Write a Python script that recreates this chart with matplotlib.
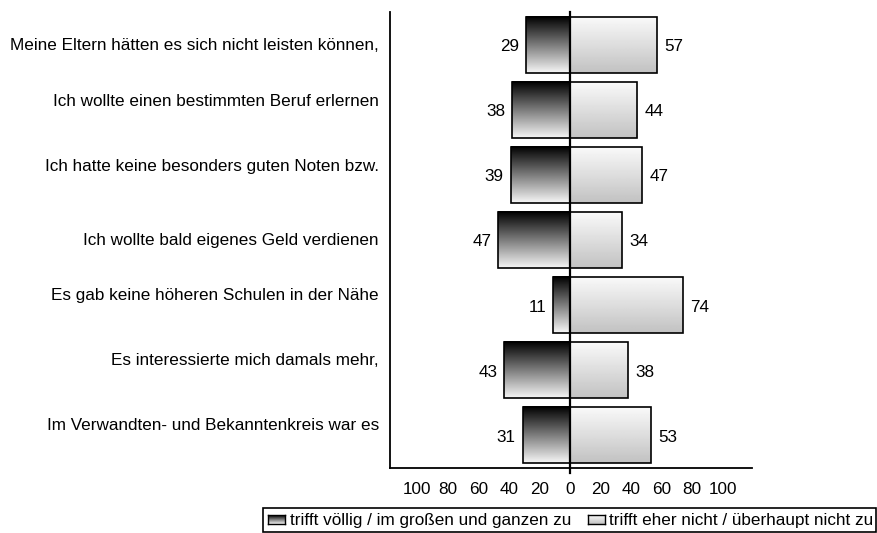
import numpy as np
import matplotlib.pyplot as plt
from matplotlib.patches import Rectangle

plt.rcParams['font.family'] = ['Liberation Sans', 'DejaVu Sans']

categories = [
    'Meine Eltern hätten es sich nicht leisten können,',
    'Ich wollte einen bestimmten Beruf erlernen',
    'Ich hatte keine besonders guten Noten bzw.',
    'Ich wollte bald eigenes Geld verdienen',
    'Es gab keine höheren Schulen in der Nähe',
    'Es interessierte mich damals mehr,',
    'Im Verwandten- und Bekanntenkreis war es',
]
agree = [29, 38, 39, 47, 11, 43, 31]
disagree = [57, 44, 47, 34, 74, 38, 53]
xticks = [-100, -80, -60, -40, -20, 0, 20, 40, 60, 80, 100]
legend_labels = ['trifft völlig / im großen und ganzen zu',
                 'trifft eher nicht / überhaupt nicht zu']

# small vertical shift of the category labels (points, up is positive)
label_shift = [-1, 6, 6, 0, 7, 7, 7]

fs = 12.3
W, H = 877, 533
fig = plt.figure(figsize=(8.77, 5.33), dpi=100)
ax = fig.add_axes([390 / W, 1 - 468 / H, 362 / W, 456 / H])

dark = np.linspace(0.0, 0.96, 64).reshape(-1, 1)   # top black -> bottom light
light = np.linspace(0.98, 0.76, 64).reshape(-1, 1)  # top white -> bottom gray
h = 0.86

for i, (a, d) in enumerate(zip(agree, disagree)):
    top, bot = i - h / 2, i + h / 2
    ax.imshow(dark, cmap='gray', vmin=0, vmax=1, aspect='auto',
              extent=(-a, 0, bot, top), zorder=2)
    ax.add_patch(Rectangle((-a, top), a, h, fill=False, ec='black', lw=1.2, zorder=3))
    ax.imshow(light, cmap='gray', vmin=0, vmax=1, aspect='auto',
              extent=(0, d, bot, top), zorder=2)
    ax.add_patch(Rectangle((0, top), d, h, fill=False, ec='black', lw=1.2, zorder=3))
    ax.text(-a - 4.5, i + 0.03, str(a), ha='right', va='center', fontsize=fs)
    ax.text(d + 5, i + 0.03, str(d), ha='left', va='center', fontsize=fs)
    ax.annotate(categories[i], xy=(0, i), xycoords=('axes fraction', 'data'),
                xytext=(-8, label_shift[i]), textcoords='offset points',
                ha='right', va='center', fontsize=fs)

ax.axvline(0, ymin=-0.01, ymax=1, color='black', lw=1.6, zorder=4, clip_on=False)

ax.set_xlim(-118, 119.3)
ax.set_ylim(6.5, -0.5)
ax.set_xticks(xticks)
ax.set_xticklabels([str(abs(t)) for t in xticks], fontsize=fs)
ax.set_yticks([])
ax.tick_params(axis='x', length=0, pad=10)
ax.spines['top'].set_visible(False)
ax.spines['right'].set_visible(False)
ax.spines['left'].set_linewidth(1.3)
ax.spines['bottom'].set_linewidth(1.3)

# legend drawn by hand
fig.patches.append(Rectangle((263 / W, 1 - 532 / H), 613 / W, 24 / H, fill=False,
                             ec='black', lw=1.2, transform=fig.transFigure))
for x0, grad, lab, tx in [(268, dark, legend_labels[0], 290),
                          (588, light, legend_labels[1], 609)]:
    sw = fig.add_axes([x0 / W, 1 - 524 / H, 17 / W, 9 / H])
    sw.imshow(grad, cmap='gray', vmin=0, vmax=1, aspect='auto')
    sw.set_xticks([])
    sw.set_yticks([])
    for s in sw.spines.values():
        s.set_linewidth(1.0)
    fig.text(tx / W, 1 - 520 / H, lab, ha='left', va='center', fontsize=fs)

plt.savefig('out.png', dpi=100)
